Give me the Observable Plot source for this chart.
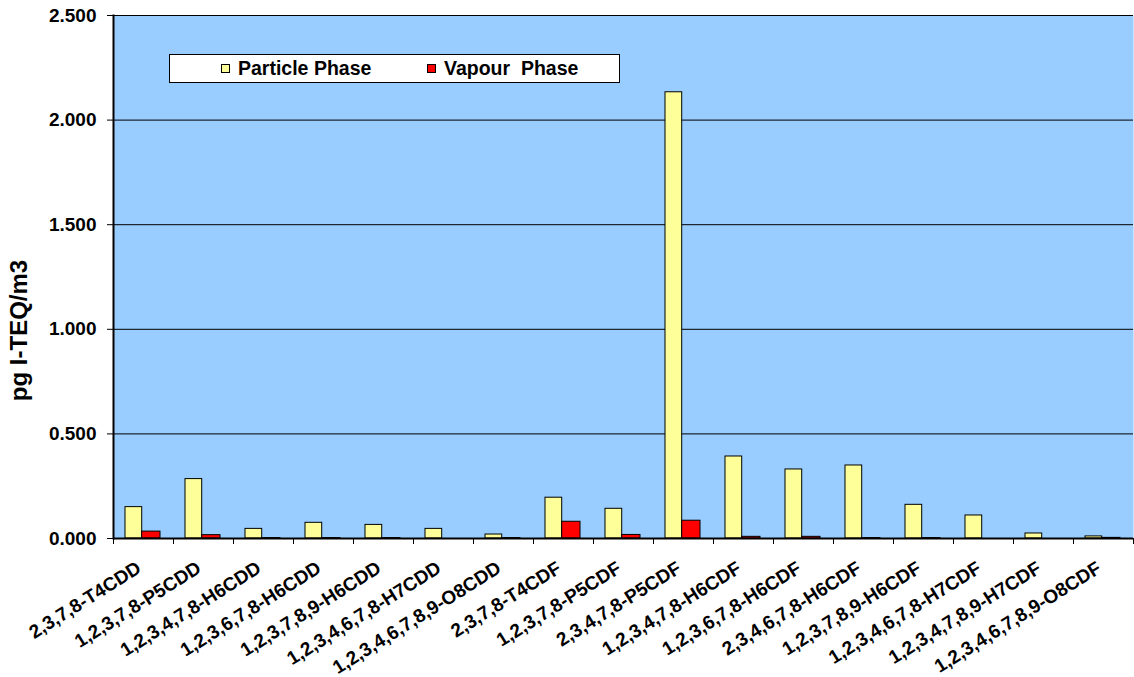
<!DOCTYPE html>
<html>
<head>
<meta charset="utf-8">
<script src="https://cdn.jsdelivr.net/npm/d3@7"></script>
<script src="https://cdn.jsdelivr.net/npm/@observablehq/plot@0.6"></script>
<style>
  html, body { margin: 0; padding: 0; background: #ffffff; }
  #chart { position: relative; width: 1134px; height: 677px; font-family: "Liberation Sans", Arial, sans-serif; }
  #legend {
    position: absolute; left: 169px; top: 54px; width: 449px; height: 27px;
    background: #ffffff; border: 1px solid #000000;
    font-weight: bold; font-size: 19.5px; color: #000;
  }
  #legend .item { position: absolute; top: 0; height: 27px; display: flex; align-items: center; white-space: pre; }
  #legend .swatch { width: 7px; height: 7px; border: 1px solid #000; margin-right: 8px; }
</style>
</head>
<body>
<div id="chart"></div>
<script>
// PCDD/PCDF congeners, toxic equivalents split by phase (pg I-TEQ/m3)
const compounds = [
  "2,3,7,8-T4CDD",
  "1,2,3,7,8-P5CDD",
  "1,2,3,4,7,8-H6CDD",
  "1,2,3,6,7,8-H6CDD",
  "1,2,3,7,8,9-H6CDD",
  "1,2,3,4,6,7,8-H7CDD",
  "1,2,3,4,6,7,8,9-O8CDD",
  "2,3,7,8-T4CDF",
  "1,2,3,7,8-P5CDF",
  "2,3,4,7,8-P5CDF",
  "1,2,3,4,7,8-H6CDF",
  "1,2,3,6,7,8-H6CDF",
  "2,3,4,6,7,8-H6CDF",
  "1,2,3,7,8,9-H6CDF",
  "1,2,3,4,6,7,8-H7CDF",
  "1,2,3,4,7,8,9-H7CDF",
  "1,2,3,4,6,7,8,9-O8CDF"
];
const particlePhase = [0.150, 0.284, 0.046, 0.075, 0.065, 0.046, 0.019, 0.195, 0.142, 2.133, 0.392, 0.330, 0.349, 0.161, 0.110, 0.024, 0.010];
const vapourPhase   = [0.033, 0.016, 0.002, 0.002, 0.002, 0.000, 0.002, 0.080, 0.017, 0.085, 0.008, 0.008, 0.002, 0.002, 0.000, 0.000, 0.003];
const yTicks = [0, 0.5, 1.0, 1.5, 2.0, 2.5];
const seriesNames = ["Particle Phase", "Vapour\u00a0 Phase"];
const seriesColors = ["#FFFF99", "#FF0000"];

const particleRows = compounds.map((name, i) => ({name, value: particlePhase[i]}));
const vapourRows = compounds.map((name, i) => ({name, value: vapourPhase[i]}));

const font = "Liberation Sans, Arial, sans-serif";

const chart = Plot.plot({
  width: 1134,
  height: 677,
  marginLeft: 113,
  marginRight: 1,
  marginTop: 15,
  marginBottom: 139,
  style: {fontFamily: font, fontWeight: "bold", fontSize: "19px", color: "#000", background: "transparent"},
  x: {type: "band", domain: compounds, padding: 0, axis: null},
  y: {domain: [0, 2.5], axis: null},
  marks: [
    // plot area
    Plot.frame({fill: "#99CCFF", stroke: null}),
    Plot.gridY(yTicks.slice(1), {stroke: "#000", strokeOpacity: 1, strokeWidth: 1}),
    // bars
    Plot.barY(particleRows, {x: "name", y: "value", fill: seriesColors[0], stroke: "#000", strokeWidth: 1, insetLeft: 12, insetRight: 31.3}),
    Plot.barY(vapourRows, {x: "name", y: "value", fill: seriesColors[1], stroke: "#000", strokeWidth: 1, insetLeft: 28.7, insetRight: 13}),
    // axes
    Plot.frame({anchor: "left", stroke: "#000", strokeWidth: 2}),
    Plot.ruleY([0], {stroke: "#000", strokeWidth: 2}),
    Plot.axisY(yTicks, {
      tickSize: 6, tickPadding: 11, tickFormat: d => d.toFixed(3),
      fontWeight: "bold", fontSize: 19, stroke: "#000", label: null
    }),
    // category boundary ticks below the x axis
    Plot.ruleX(compounds, {x: d => d, dx: -30, y1: 0, y2: 0, insetTop: 6, stroke: "#000"}),
    Plot.ruleX([compounds[compounds.length - 1]], {x: d => d, dx: 30, y1: 0, y2: 0, insetTop: 6, stroke: "#000"}),
    // rotated category labels
    Plot.text(compounds, {
      x: d => d, frameAnchor: "bottom", text: d => d,
      rotate: -32, textAnchor: "end", lineAnchor: "bottom",
      dx: -1, dy: 33, fontSize: 19, fontWeight: "bold", fill: "#000"
    }),
    // y axis title
    Plot.text(["pg I-TEQ/m3"], {
      frameAnchor: "top-left", text: d => d, rotate: -90,
      textAnchor: "middle", lineAnchor: "middle",
      dx: -94, dy: 315, fontSize: 24, fontWeight: "bold", fill: "#000"
    })
  ]
});

const container = document.getElementById("chart");
container.appendChild(chart);

// legend drawn over the plot area
const legend = document.createElement("div");
legend.id = "legend";
const itemLeft = [51, 257];
seriesNames.forEach((name, i) => {
  const item = document.createElement("div");
  item.className = "item";
  item.style.left = itemLeft[i] + "px";
  const sw = document.createElement("span");
  sw.className = "swatch";
  sw.style.background = seriesColors[i];
  const label = document.createElement("span");
  label.textContent = name;
  item.appendChild(sw);
  item.appendChild(label);
  legend.appendChild(item);
});
container.appendChild(legend);
</script>
</body>
</html>
